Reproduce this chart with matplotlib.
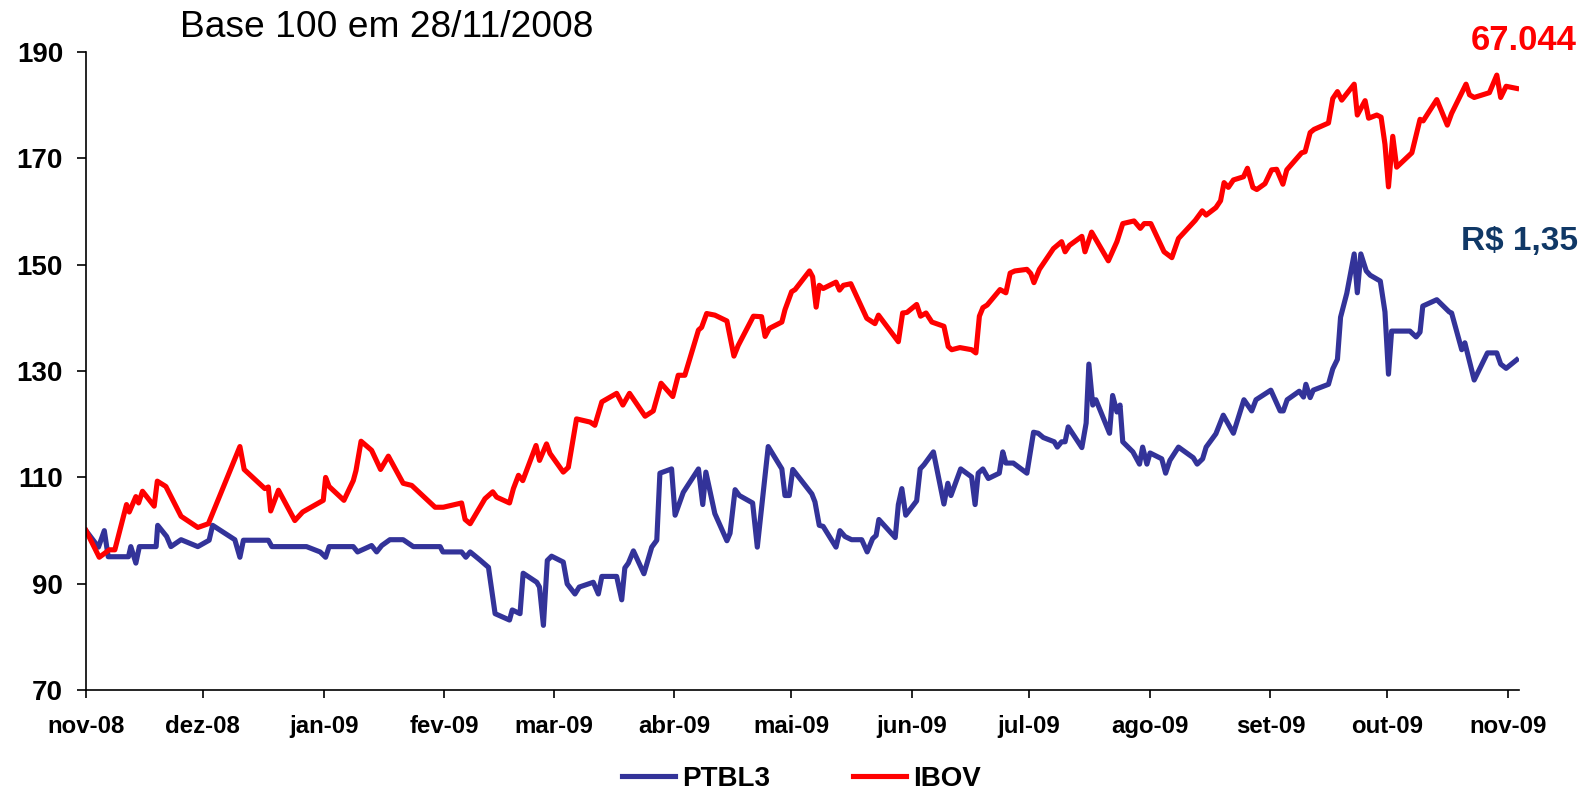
import numpy as np
import pandas as pd
import matplotlib
matplotlib.use("Agg")
import matplotlib.pyplot as plt

#*******************************************************************************
# Data (base 100 em 28/11/2008), x = dias desde a data base
#*******************************************************************************
DATA_BASE = pd.Timestamp("2008-11-28")

dias_ptbl = [0, 3.2, 4.7, 5.7, 10.9, 11.5, 12.8, 13.7, 18.0, 18.4, 20.7, 21.8, 24.4,
             28.7, 31.6, 32.5, 38.2, 39.5, 40.4, 46.8, 47.7, 56.6, 60.1, 61.5, 62.4,
             68.6, 69.7, 73.3, 74.6, 75.9, 78.0, 81.4, 84.0, 90.9, 91.6, 96.4, 97.5,
             98.6, 101.1, 103.3, 105.0, 108.7, 109.4, 111.4, 112.2, 115.7, 116.4,
             117.4, 118.4, 119.5, 122.5, 123.5, 125.5, 126.6, 130.2, 131.5, 132.4,
             136.2, 137.5, 138.3, 139.2, 140.5, 143.2, 145.2, 146.5, 147.3, 150.3,
             151.2, 153.3, 157.2, 158.3, 159.1, 161.4, 164.5, 165.3, 166.6, 167.7,
             171.1, 172.3, 175.1, 178.6, 179.4, 180.5, 181.4, 186.3, 187.1, 188.2,
             189.2, 192.5, 193.5, 194.8, 196.5, 199.1, 200.5, 201.9, 202.8, 203.5,
             207.7, 208.5, 209.4, 210.4, 213.2, 214.1, 215.1, 217.5, 220.2, 221.2,
             222.0, 224.5, 227.3, 228.2, 229.0, 230.2, 231.6, 234.4, 235.3, 236.1,
             238.0, 241.5, 243.2, 244.4, 245.7, 248.5, 249.3, 250.4, 251.3, 252.1,
             255.6, 256.7, 257.4, 258.4, 259.2, 262.7, 263.5, 264.6, 265.4, 266.1,
             268.7, 270.4, 271.2, 272.3, 273.1, 276.1, 277.1, 278.2, 280.4, 284.2,
             285.2, 286.6, 287.5, 290.0, 291.9, 294.5, 297.2, 299.2, 300.3, 304.1,
             306.5, 307.3, 308.3, 311.4, 312.5, 313.1, 314.2, 315.0, 318.9, 320.0,
             321.2, 322.0, 323.6, 325.5, 326.3, 327.2, 328.6, 329.6, 332.2, 333.4,
             334.3, 335.1, 339.8, 341.4, 342.4, 343.1, 346.7, 349.9, 350.5, 353.1,
             353.9, 356.3, 359.7, 362.1, 363.1, 364.5, 367.2]
ptbl3 = [100, 96.9, 100, 95.1, 95.1, 97, 93.9, 97, 97, 101, 98.9, 97, 98.3,
         97, 98.2, 101, 98.3, 95, 98.2, 98.2, 97, 97, 96, 95, 97,
         97, 96, 97.2, 96, 97.2, 98.3, 98.3, 97, 97, 96, 96, 95,
         96, 94.5, 93.1, 84.4, 83.2, 85.1, 84.4, 92, 90.3, 89.4,
         82.2, 94.4, 95.2, 94.1, 90, 88.1, 89.4, 90.3, 88.1, 91.4,
         91.4, 87, 93, 93.9, 96.2, 91.9, 96.9, 98.2, 110.8, 111.6,
         102.9, 107.2, 111.6, 104.9, 111, 103.2, 98.1, 99.5, 107.7, 106.6,
         105.2, 96.9, 115.8, 111.6, 106.6, 106.6, 111.5, 106.9, 105.4, 101,
         100.8, 96.9, 100, 98.9, 98.3, 98.3, 96, 98.5, 99.1, 102.1,
         98.7, 104.9, 107.9, 102.9, 105.6, 111.6, 112.4, 114.8, 105, 108.9,
         106.6, 111.6, 110.1, 104.9, 110.8, 111.6, 109.8, 110.8, 114.8, 112.7,
         112.7, 110.8, 118.5, 118.3, 117.5, 116.7, 115.7, 116.7, 116.7, 119.5,
         115.6, 120.2, 131.3, 123.6, 124.6, 118.3, 125.4, 122.3, 123.6, 116.7,
         114.8, 112.5, 115.7, 112.5, 114.6, 113.5, 110.8, 113.2, 115.7, 113.7,
         112.5, 113.5, 115.7, 118.2, 121.7, 118.3, 124.6, 122.5, 124.6, 126.4,
         122.5, 122.5, 124.6, 126.2, 125.1, 127.5, 125, 126.4, 127.5, 130.4,
         132.2, 140.1, 144.6, 152, 144.7, 152, 148.8, 148, 146.9, 141.1,
         129.4, 137.5, 137.5, 136.4, 137.3, 142.2, 143.4, 141.1, 140.9, 134,
         135.3, 128.3, 133.4, 133.4, 131.3, 130.5, 132.1]

dias_ibov = [0, 3.4, 6.0, 7.4, 10.4, 11.1, 12.8, 13.5, 14.5, 17.5, 18.3, 20.5, 24.4,
             28.7, 31.4, 39.5, 40.6, 45.9, 46.8, 47.4, 49.4, 53.6, 55.6, 60.9, 61.5,
             62.4, 66.2, 68.6, 69.3, 70.6, 73.3, 75.6, 77.6, 81.4, 83.6, 89.6, 91.7,
             96.4, 97.3, 98.6, 102.4, 104.4, 105.4, 108.7, 109.7, 111.0, 112.1,
             115.5, 116.4, 118.2, 119.1, 122.5, 123.8, 125.9, 129.4, 130.6, 132.4,
             136.2, 137.8, 139.5, 143.5, 145.6, 147.6, 150.6, 152.0, 153.7, 157.2,
             158.0, 159.3, 161.4, 164.5, 166.3, 167.4, 171.3, 173.4, 174.3, 175.4,
             178.6, 179.4, 181.1, 182.0, 185.7, 186.5, 187.4, 188.2, 189.2, 192.5,
             193.4, 194.4, 196.3, 200.4, 202.5, 203.4, 208.5, 209.6, 210.7, 213.2,
             214.2, 215.6, 217.1, 220.2, 221.3, 222.2, 224.3, 227.3, 228.4, 229.3,
             230.2, 231.3, 234.6, 236.1, 237.2, 238.4, 241.5, 242.5, 243.3, 244.7,
             248.3, 250.4, 251.3, 252.4, 255.6, 256.4, 258.1, 262.4, 264.6, 266.1,
             269.0, 270.6, 271.6, 273.3, 276.7, 278.7, 280.4, 284.7, 286.5, 287.5,
             290.0, 291.2, 292.1, 293.2, 294.5, 297.1, 298.1, 299.5, 300.5, 302.6,
             304.3, 305.6, 307.2, 308.2, 312.0, 312.9, 314.2, 315.2, 318.9, 320.0,
             321.2, 322.3, 325.5, 326.3, 328.3, 329.2, 331.3, 332.4, 333.4, 334.3,
             335.4, 336.4, 340.3, 342.4, 343.2, 346.7, 349.4, 350.5, 354.2, 355.1,
             356.3, 360.2, 362.1, 363.1, 364.5, 367.2]
ibov = [100, 95, 96.4, 96.4, 104.9, 103.5, 106.4, 105.2, 107.4, 104.6, 109.3, 108.3, 102.7,
        100.6, 101.3, 115.8, 111.5, 107.9, 108.2, 103.7, 107.6, 101.9, 103.5, 105.7, 110,
        108.3, 105.7, 109.4, 111.3, 116.8, 115.1, 111.5, 114, 108.9, 108.5, 104.4, 104.4,
        105.2, 102.1, 101.3, 106, 107.3, 106.3, 105.2, 107.9, 110.4, 109.4,
        116, 113.2, 116.3, 114.5, 111, 111.9, 121, 120.4, 119.8, 124.2,
        125.8, 123.6, 125.8, 121.5, 122.5, 127.7, 125.2, 129.2, 129.2, 137.7,
        138.2, 140.8, 140.5, 139.4, 132.8, 134.8, 140.3, 140.2, 136.5, 138,
        139.2, 141.5, 144.9, 145.3, 148.8, 147.7, 142, 146.1, 145.5, 146.7,
        145.2, 146.1, 146.4, 139.9, 138.9, 140.5, 135.5, 140.9, 141, 142.5,
        140.3, 140.9, 139.2, 138.4, 134.6, 134, 134.4, 134, 133.4, 140.3,
        141.9, 142.4, 145.3, 144.7, 148.4, 148.8, 149.1, 148.3, 146.6, 149.1,
        153, 154.3, 152.4, 153.6, 155.3, 152.4, 156.1, 150.7, 154.3, 157.7,
        158.2, 156.8, 157.7, 157.7, 152.4, 151.3, 154.9, 158.3, 160.1, 159.3,
        160.7, 162, 165.4, 164.5, 165.9, 166.5, 168.1, 164.5, 164.1, 165.2,
        167.8, 167.9, 165.1, 167.8, 171, 171.2, 174.8, 175.4, 176.6, 181.2,
        182.5, 180.9, 183.9, 178.1, 180.8, 177.5, 178.1, 177.7, 172.6, 164.6,
        174.1, 168.3, 171, 177.3, 177, 181, 176.2, 178.4, 183.9, 181.9,
        181.4, 182.3, 185.6, 181.4, 183.5, 183.1]

meses = ["nov-08", "dez-08", "jan-09", "fev-09", "mar-09", "abr-09", "mai-09",
         "jun-09", "jul-09", "ago-09", "set-09", "out-09", "nov-09"]

#*******************************************************************************
# Plot
#*******************************************************************************
plt.rcParams["font.family"] = ["Liberation Sans", "DejaVu Sans"]

x_ptbl = DATA_BASE + pd.to_timedelta(dias_ptbl, unit="D")
x_ibov = DATA_BASE + pd.to_timedelta(dias_ibov, unit="D")
ticks = pd.date_range(DATA_BASE, periods=len(meses), freq=pd.DateOffset(months=1))

fig = plt.figure(figsize=(15.87, 7.92), dpi=100)
ax = fig.add_axes([86 / 1587, 1 - 690.3 / 792, (1519 - 86) / 1587, (690.3 - 51.7) / 792])

l1, = ax.plot(x_ptbl, ptbl3, color="#333399", lw=3.7, label="PTBL3")
l2, = ax.plot(x_ibov, ibov, color="#ff0000", lw=3.7, label="IBOV")

ax.set_ylim(70, 190)
ax.set_yticks(np.arange(70, 191, 20))
ax.set_xlim(DATA_BASE, DATA_BASE + pd.Timedelta(days=367.8))
ax.set_xticks(ticks)
ax.set_xticklabels(meses)

for s in ["top", "right"]:
    ax.spines[s].set_visible(False)
for s in ["left", "bottom"]:
    ax.spines[s].set_linewidth(1.2)

ax.tick_params(axis="y", length=6.5, width=1.2, pad=10, labelsize=20)
ax.tick_params(axis="x", length=6, width=1.2, pad=11.5, labelsize=17.3)
for lab in ax.get_xticklabels() + ax.get_yticklabels():
    lab.set_fontweight("bold")

fig.text(180 / 1587, 1 - 37 / 792, "Base 100 em 28/11/2008", fontsize=26.7,
         ha="left", va="baseline")
fig.text(1577 / 1587, 1 - 50 / 792, "67.044", fontsize=25, fontweight="bold",
         color="#ff0000", ha="right", va="baseline")
fig.text(1578 / 1587, 1 - 250 / 792, "R$ 1,35", fontsize=24, fontweight="bold",
         color="#103866", ha="right", va="baseline")

fig.legend(handles=[l1, l2], loc="center", bbox_to_anchor=(801.5 / 1587, 1 - 779 / 792),
           ncol=2, frameon=False, prop={"size": 20, "weight": "bold"},
           handlelength=1.9, handletextpad=0.25, columnspacing=3.0, borderpad=0)

fig.savefig("out.png", dpi=100)
